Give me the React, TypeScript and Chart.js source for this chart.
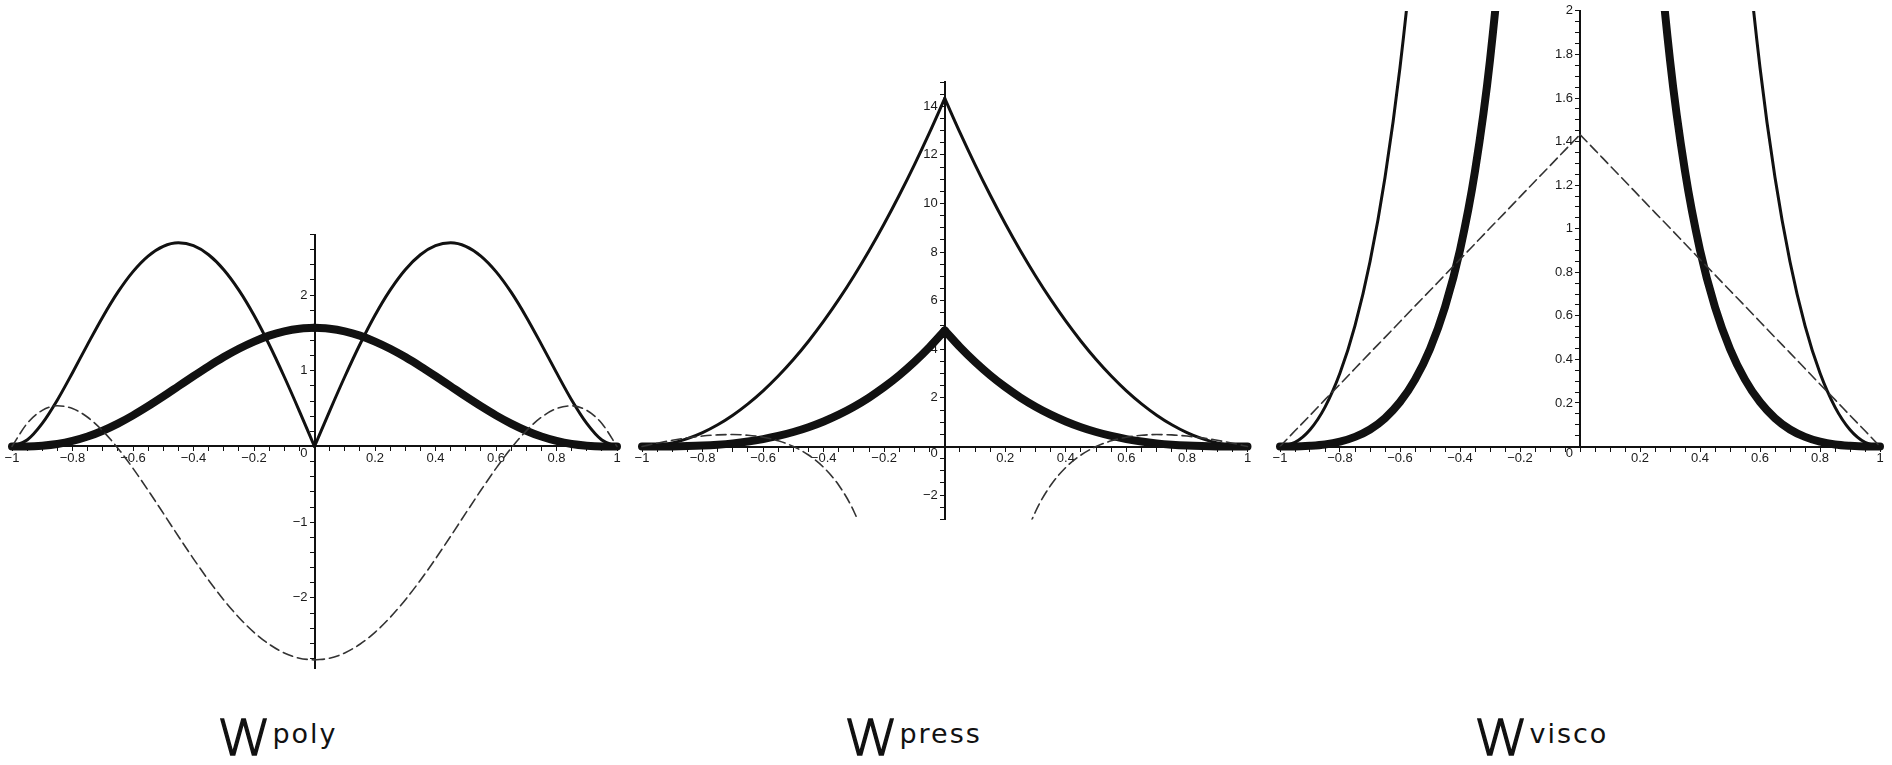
import React, { useEffect, useRef } from "react";
import { Chart, registerables } from "chart.js";

Chart.register(...registerables);

// shared abscissa (r / h)
const X = [-1, -0.95, -0.9, -0.85, -0.8, -0.75, -0.7, -0.65, -0.6, -0.55, -0.5, -0.45, -0.4, -0.35, -0.3, -0.25, -0.2, -0.15, -0.1, -0.05, 0, 0.05, 0.1, 0.15, 0.2, 0.25, 0.3, 0.35, 0.4, 0.45, 0.5, 0.55, 0.6, 0.65, 0.7, 0.75, 0.8, 0.85, 0.9, 0.95, 1];

// W poly
const POLY_KERNEL = [0, 0.001, 0.011, 0.033, 0.073, 0.131, 0.208, 0.302, 0.411, 0.532, 0.661, 0.795, 0.929, 1.059, 1.181, 1.291, 1.386, 1.464, 1.52, 1.555, 1.567, 1.555, 1.52, 1.464, 1.386, 1.291, 1.181, 1.059, 0.929, 0.795, 0.661, 0.532, 0.411, 0.302, 0.208, 0.131, 0.073, 0.033, 0.011, 0.001, 0];
const POLY_GRADIENT = [0, 0.085, 0.305, 0.615, 0.975, 1.349, 1.711, 2.038, 2.31, 2.515, 2.644, 2.69, 2.653, 2.533, 2.335, 2.065, 1.733, 1.347, 0.921, 0.468, 0, 0.468, 0.921, 1.347, 1.733, 2.065, 2.335, 2.533, 2.653, 2.69, 2.644, 2.515, 2.31, 2.038, 1.711, 1.349, 0.975, 0.615, 0.305, 0.085, 0];
const POLY_LAPLACIAN = [0, 0.304, 0.477, 0.537, 0.501, 0.386, 0.206, -0.023, -0.289, -0.579, -0.881, -1.186, -1.484, -1.767, -2.027, -2.258, -2.455, -2.612, -2.727, -2.797, -2.82, -2.797, -2.727, -2.612, -2.455, -2.258, -2.027, -1.767, -1.484, -1.186, -0.881, -0.579, -0.289, -0.023, 0.206, 0.386, 0.501, 0.537, 0.477, 0.304, 0];

// W press
const PRESS_KERNEL = [0, 0.001, 0.005, 0.016, 0.038, 0.075, 0.129, 0.205, 0.306, 0.435, 0.597, 0.794, 1.031, 1.311, 1.638, 2.014, 2.445, 2.932, 3.481, 4.094, 4.775, 4.094, 3.481, 2.932, 2.445, 2.014, 1.638, 1.311, 1.031, 0.794, 0.597, 0.435, 0.306, 0.205, 0.129, 0.075, 0.038, 0.016, 0.005, 0.001, 0];
const PRESS_GRADIENT = [0, 0.036, 0.143, 0.322, 0.573, 0.895, 1.289, 1.755, 2.292, 2.901, 3.581, 4.333, 5.157, 6.052, 7.019, 8.057, 9.167, 10.349, 11.602, 12.927, 14.324, 12.927, 11.602, 10.349, 9.167, 8.057, 7.019, 6.052, 5.157, 4.333, 3.581, 2.901, 2.292, 1.755, 1.289, 0.895, 0.573, 0.322, 0.143, 0.036, 0];
const PRESS_LAPLACIAN = [0, 0.136, 0.255, 0.354, 0.43, 0.478, 0.491, 0.463, 0.382, 0.234, 0, -0.35, -0.86, -1.596, -2.674, -4.298, -6.876, null, null, null, null, null, null, null, -6.876, -4.298, -2.674, -1.596, -0.86, -0.35, 0, 0.234, 0.382, 0.463, 0.491, 0.478, 0.43, 0.354, 0.255, 0.136, 0];

// W visco
const VISCO_KERNEL = [0, 0, 0.003, 0.009, 0.022, 0.044, 0.078, 0.13, 0.204, 0.307, 0.448, 0.64, 0.902, 1.264, 1.774, 2.518, 3.667, null, null, null, null, null, null, null, 3.667, 2.518, 1.774, 1.264, 0.902, 0.64, 0.448, 0.307, 0.204, 0.13, 0.078, 0.044, 0.022, 0.009, 0.003, 0, 0];
const VISCO_GRADIENT = [0, 0.019, 0.077, 0.181, 0.337, 0.555, 0.848, 1.235, 1.74, 2.403, 3.282, 4.471, 6.12, null, null, null, null, null, null, null, null, null, null, null, null, null, null, null, 6.12, 4.471, 3.282, 2.403, 1.74, 1.235, 0.848, 0.555, 0.337, 0.181, 0.077, 0.019, 0];
const VISCO_LAPLACIAN = [0, 0.072, 0.143, 0.215, 0.286, 0.358, 0.43, 0.501, 0.573, 0.645, 0.716, 0.788, 0.859, 0.931, 1.003, 1.074, 1.146, 1.218, 1.289, 1.361, 1.432, 1.361, 1.289, 1.218, 1.146, 1.074, 1.003, 0.931, 0.859, 0.788, 0.716, 0.645, 0.573, 0.501, 0.43, 0.358, 0.286, 0.215, 0.143, 0.072, 0];

// tick labels
const X_TICK_LABELS = [-1, -0.8, -0.6, -0.4, -0.2, 0.2, 0.4, 0.6, 0.8, 1];
const POLY_Y_LABELS = [-2, -1, 1, 2];
const PRESS_Y_LABELS = [-2, 2, 4, 6, 8, 10, 12, 14];
const VISCO_Y_LABELS = [0.2, 0.4, 0.6, 0.8, 1, 1.2, 1.4, 1.6, 1.8, 2];

const TICK_FONT = { family: "'Liberation Sans', Arial, sans-serif", size: 13 };
const INK = "#111";
const LABEL_INK = "#1a1a1a";

function fmt(v: number) {
  return (v < 0 ? "\u2212" : "") + String(Math.abs(v));
}

function stepTicks(min: number, max: number, step: number) {
  const out: { value: number }[] = [];
  const n0 = Math.ceil(min / step - 1e-9);
  const n1 = Math.floor(max / step + 1e-9);
  for (let n = n0; n <= n1; n++) out.push({ value: +(n * step).toFixed(4) });
  return out;
}

function labelFor(list: number[]) {
  return (value: any) => {
    const v = Number(value);
    const hit = list.find((l) => Math.abs(l - v) < 1e-6);
    return hit === undefined ? "" : fmt(hit);
  };
}

type Panel = {
  kernel: (number | null)[];
  gradient: (number | null)[];
  laplacian: (number | null)[];
  yMin: number;
  yMax: number;
  yStep: number;
  yLabels: number[];
  box: { left: number; top: number; w: number; h: number };
  pad: { left: number; top: number; right: number; bottom: number };
};

const PANELS: Panel[] = [
  {
    kernel: POLY_KERNEL, gradient: POLY_GRADIENT, laplacian: POLY_LAPLACIAN,
    yMin: -2.93, yMax: 2.8, yStep: 0.2, yLabels: POLY_Y_LABELS,
    box: { left: 2, top: 224, w: 635, h: 474 },
    pad: { left: 10, top: 10.5, right: 20, bottom: 29.7 },
  },
  {
    kernel: PRESS_KERNEL, gradient: PRESS_GRADIENT, laplacian: PRESS_LAPLACIAN,
    yMin: -3, yMax: 15, yStep: 0.5, yLabels: PRESS_Y_LABELS,
    box: { left: 632, top: 72, w: 636, h: 478 },
    pad: { left: 10, top: 10, right: 20.5, bottom: 30.6 },
  },
  {
    kernel: VISCO_KERNEL, gradient: VISCO_GRADIENT, laplacian: VISCO_LAPLACIAN,
    yMin: 0, yMax: 2, yStep: 0.05, yLabels: VISCO_Y_LABELS,
    box: { left: 1270, top: 0, w: 622, h: 480 },
    pad: { left: 10, top: 10.9, right: 12, bottom: 33.5 },
  },
];

const TITLES = [
  { main: "W", sup: "poly", left: 217 },
  { main: "W", sup: "press", left: 844 },
  { main: "W", sup: "visco", left: 1474 },
];

const MID = X.indexOf(0);

// split each curve at r = 0 so the cusps there stay sharp
function halves(vals: (number | null)[]) {
  const pts = X.map((x, i) => ({ x, y: vals[i] }));
  return [pts.slice(0, MID + 1), pts.slice(MID)];
}

function KernelPlot({ p }: { p: Panel }) {
  const ref = useRef<HTMLCanvasElement | null>(null);
  useEffect(() => {
    if (!ref.current) return;
    const solidClip = { left: 8, right: 8, top: 0, bottom: 8 };
    const datasets: any[] = [];
    halves(p.laplacian).forEach((d) =>
      datasets.push({
        data: d,
        borderColor: "#333",
        borderWidth: 1.6,
        borderDash: [10, 5],
        clip: { left: 8, right: 8, top: 0, bottom: 0 },
      })
    );
    halves(p.gradient).forEach((d) =>
      datasets.push({ data: d, borderColor: INK, borderWidth: 3, clip: solidClip })
    );
    halves(p.kernel).forEach((d) =>
      datasets.push({ data: d, borderColor: INK, borderWidth: 8, clip: solidClip })
    );
    const chart = new Chart(ref.current, {
      type: "line",
      data: { datasets },
      options: {
        animation: false,
        responsive: false,
        devicePixelRatio: 1,
        events: [],
        layout: { padding: p.pad },
        elements: {
          point: { radius: 0 },
          line: {
            cubicInterpolationMode: "monotone",
            borderCapStyle: "round",
            borderJoinStyle: "round",
            fill: false,
          },
        },
        plugins: { legend: { display: false }, tooltip: { enabled: false }, title: { display: false } },
        scales: {
          x: {
            type: "linear",
            min: -1,
            max: 1,
            position: { y: 0 } as any,
            border: { display: true, color: INK, width: 2 },
            grid: { display: true, drawOnChartArea: false, drawTicks: true, tickLength: 4, tickColor: INK, tickWidth: 1 },
            ticks: { autoSkip: false, maxRotation: 0, padding: 0, font: TICK_FONT, color: LABEL_INK, callback: labelFor(X_TICK_LABELS) },
            afterBuildTicks: (s: any) => { s.ticks = stepTicks(-1, 1, 0.05); },
            afterFit: (s: any) => { s.height = 0; s.paddingLeft = 0; s.paddingRight = 0; },
          },
          y: {
            type: "linear",
            min: p.yMin,
            max: p.yMax,
            position: "center",
            border: { display: true, color: INK, width: 2 },
            grid: { display: true, drawOnChartArea: false, drawTicks: true, tickLength: 4, tickColor: INK, tickWidth: 1 },
            ticks: { autoSkip: false, padding: 3, font: TICK_FONT, color: LABEL_INK, callback: labelFor(p.yLabels) },
            afterBuildTicks: (s: any) => { s.ticks = stepTicks(p.yMin, p.yMax, p.yStep); },
            afterFit: (s: any) => { s.width = 0; s.paddingTop = 0; s.paddingBottom = 0; },
          },
          yzero: {
            type: "linear",
            axis: "y",
            min: p.yMin,
            max: p.yMax,
            position: "center",
            border: { display: false },
            grid: { display: false, drawTicks: false },
            ticks: { autoSkip: false, padding: 7, labelOffset: 7, font: TICK_FONT, color: LABEL_INK, callback: () => "0" },
            afterBuildTicks: (s: any) => { s.ticks = [{ value: 0 }]; },
            afterFit: (s: any) => { s.width = 0; s.paddingTop = 0; s.paddingBottom = 0; },
          },
        } as any,
      },
    });
    return () => chart.destroy();
  }, [p]);
  return (
    <canvas
      ref={ref}
      width={p.box.w}
      height={p.box.h}
      style={{ position: "absolute", left: p.box.left, top: p.box.top, width: p.box.w, height: p.box.h }}
    />
  );
}

export default function App() {
  return (
    <div style={{ position: "fixed", left: 0, top: 0, width: 1892, height: 765, background: "#fff", overflow: "hidden" }}>
      {PANELS.map((p, i) => (
        <KernelPlot key={i} p={p} />
      ))}
      {TITLES.map((t, i) => (
        <div
          key={i}
          style={{
            position: "absolute",
            left: t.left,
            top: 713,
            whiteSpace: "nowrap",
            fontFamily: "'DejaVu Sans', sans-serif",
            fontWeight: 400,
            fontSize: 48,
            lineHeight: 1,
            color: "#111",
          }}
        >
          <span
            style={{
              display: "inline-block",
              fontSize: 50,
              fontWeight: 200,
              WebkitTextStroke: "1.3px #111",
              transform: "scaleX(1.1)",
              transformOrigin: "left",
              marginRight: 6,
            } as any}
          >
            {t.main}
          </span>
          <span style={{ fontSize: 27, letterSpacing: 2, position: "relative", top: -12 }}>{t.sup}</span>
        </div>
      ))}
    </div>
  );
}
